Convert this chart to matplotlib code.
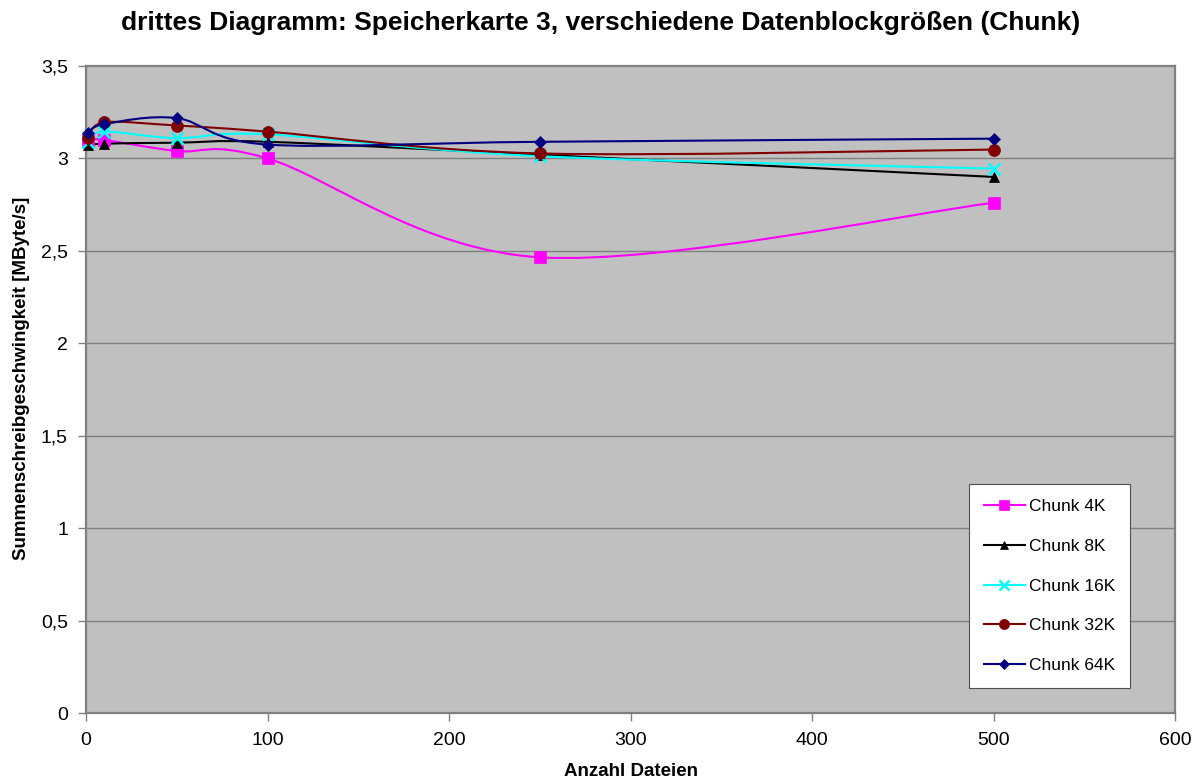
import matplotlib
matplotlib.use("Agg")
import matplotlib.pyplot as plt
from matplotlib.path import Path
from matplotlib.patches import PathPatch
from matplotlib.lines import Line2D
from matplotlib.ticker import FuncFormatter, MultipleLocator

plt.rcParams['font.family'] = ['Liberation Sans', 'DejaVu Sans']

# Anzahl Dateien
files = [1, 10, 50, 100, 250, 500]

# Summenschreibgeschwindigkeit [MByte/s] je Chunk-Größe
chunk_4k = [3.10, 3.10, 3.04, 3.00, 2.465, 2.76]
chunk_8k = [3.07, 3.08, 3.085, 3.09, 3.02, 2.90]
chunk_16k = [3.09, 3.145, 3.11, 3.13, 3.012, 2.945]
chunk_32k = [3.11, 3.195, 3.178, 3.145, 3.027, 3.048]
chunk_64k = [3.135, 3.185, 3.218, 3.075, 3.09, 3.107]

series_labels = ["Chunk 4K", "Chunk 8K", "Chunk 16K", "Chunk 32K", "Chunk 64K"]
series_values = [chunk_4k, chunk_8k, chunk_16k, chunk_32k, chunk_64k]
colors = ["#FF00FF", "#000000", "#00FFFF", "#800000", "#000080"]
markers = ["s", "^", "x", "o", "D"]
msizes = [8, 7.5, 8, 8.6, 6.5]

title = "drittes Diagramm: Speicherkarte 3, verschiedene Datenblockgrößen (Chunk)"
xlabel = "Anzahl Dateien"
ylabel = "Summenschreibgeschwingkeit [MByte/s]"


def smooth_path(xs, ys):
    """Cubic Bezier path through the points (Catmull-Rom style tangents)."""
    pts = list(zip(xs, ys))
    n = len(pts)
    verts = [pts[0]]
    codes = [Path.MOVETO]
    for i in range(n - 1):
        p0 = pts[i - 1] if i > 0 else pts[i]
        p1 = pts[i]
        p2 = pts[i + 1]
        p3 = pts[i + 2] if i + 2 < n else pts[i + 1]
        c1 = (p1[0] + (p2[0] - p0[0]) / 6.0, p1[1] + (p2[1] - p0[1]) / 6.0)
        c2 = (p2[0] - (p3[0] - p1[0]) / 6.0, p2[1] - (p3[1] - p1[1]) / 6.0)
        verts += [c1, c2, p2]
        codes += [Path.CURVE4] * 3
    return Path(verts, codes)


fig = plt.figure(figsize=(12, 7.82), dpi=100)
ax = fig.add_axes([86 / 1200, 1 - 713 / 782, 1089 / 1200, 647 / 782])
ax.set_facecolor("#C0C0C0")

for val in [0.5, 1.0, 1.5, 2.0, 2.5, 3.0]:
    ax.axhline(val, color="#808080", lw=1.0, zorder=1)

handles = []
for lab, vals, col, mk, ms in zip(series_labels, series_values, colors, markers, msizes):
    patch = PathPatch(smooth_path(files, vals), fill=False, edgecolor=col, lw=1.5, zorder=3)
    ax.add_patch(patch)
    mew = 1.8 if mk == "x" else 0.5
    ax.plot(files, vals, linestyle="none", marker=mk, markersize=ms, color=col,
            markeredgecolor=col, markeredgewidth=mew, zorder=4, clip_on=False)
    handles.append(Line2D([], [], color=col, lw=1.5, marker=mk, markersize=ms * 0.85,
                          markeredgecolor=col, markeredgewidth=mew, label=lab))

ax.set_xlim(0, 600)
ax.set_ylim(0, 3.5)
ax.xaxis.set_major_locator(MultipleLocator(100))
ax.yaxis.set_major_locator(MultipleLocator(0.5))
ax.yaxis.set_major_formatter(FuncFormatter(lambda v, p: ("%g" % v).replace(".", ",")))

for s in ax.spines.values():
    s.set_color("#808080")
    s.set_linewidth(1.6)
ax.tick_params(axis="both", direction="out", length=6, width=1, color="#808080",
               labelsize=14, labelcolor="#000000")
ax.tick_params(axis="x", pad=8)
ax.tick_params(axis="y", pad=7)

ax.set_xlabel(xlabel, fontsize=13.5, fontweight="bold", va="center")
ax.xaxis.set_label_coords(0.5, (713 - 772) / 647)
ax.set_ylabel(ylabel, fontsize=13.5, fontweight="bold", va="center")
ax.yaxis.set_label_coords((22 - 86) / 1089, (713 - 378) / 647)
fig.text(601 / 1200, 1 - 23 / 782, title, ha="center", va="center", fontsize=19, fontweight="bold")

leg = ax.legend(handles=handles, loc="lower left", bbox_to_anchor=(0.811, 0.0386),
                fontsize=12.5, frameon=True, fancybox=False, framealpha=1.0,
                edgecolor="#505050", labelspacing=1.42, handlelength=2.35,
                handletextpad=0.25, borderpad=0.85, borderaxespad=0)
leg.get_frame().set_linewidth(0.8)

fig.savefig("out.png", dpi=100)
